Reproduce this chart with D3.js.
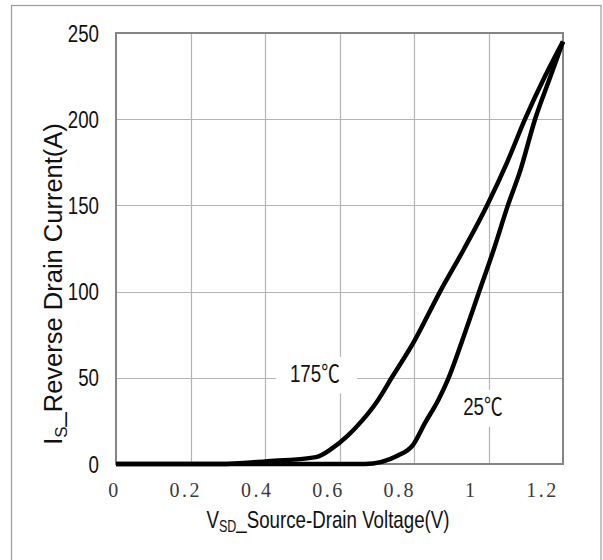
<!DOCTYPE html>
<html>
<head>
<meta charset="utf-8">
<script src="https://cdn.jsdelivr.net/npm/d3@7/dist/d3.min.js"></script>
<style>
  html, body { margin: 0; padding: 0; background: #fff; }
  svg { display: block; }
</style>
</head>
<body>
<svg id="chart" width="603" height="560"></svg>
<script>
// Reverse diode characteristic: source-drain voltage vs. reverse drain current
const voltageTicks = [0, 0.2, 0.4, 0.6, 0.8, 1.0, 1.2];
const voltageTickLabels = ["0", "0.2", "0.4", "0.6", "0.8", "1", "1.2"];
const currentTicks = [0, 50, 100, 150, 200, 250];

// Tj = 175 degC
const vsd175 = [0, 0.28, 0.40, 0.537, 0.58, 0.62, 0.66, 0.70, 0.74, 0.80, 0.87, 0.935, 0.996, 1.05, 1.098, 1.152, 1.20];
const is175  = [0, 0,    1.5,  4,     9,    16,   25,   36,   50,   71,   100,  125,   150,   175,  200,   225,   245];

// Tj = 25 degC
const vsd25 = [0, 0.668, 0.757, 0.797, 0.83, 0.865, 0.893, 0.935, 0.975, 1.015, 1.052, 1.085, 1.125, 1.165, 1.20];
const is25  = [0, 0,     5,     11,    24,   37,    50,    75,    100,   125,   150,   170,   200,   224,   245];

const seriesLabels = ["175\u2103", "25\u2103"];

const svg = d3.select("#chart");
const margin = { left: 116, right: 40, top: 33, bottom: 96 };
const W = 603, H = 560;
const plotW = W - margin.left - margin.right;
const plotH = H - margin.top - margin.bottom;

const x = d3.scaleLinear().domain([0, 1.2]).range([margin.left, margin.left + plotW]);
const y = d3.scaleLinear().domain([0, 250]).range([margin.top + plotH, margin.top]);
// tick text sits on a slightly narrower span than the grid
const xLabel = d3.scaleLinear().domain([0, 1.2]).range([113, 541]);

const sans = "'Liberation Sans', Arial, 'Noto Sans CJK SC', sans-serif";
const serif = "'Liberation Serif', 'DejaVu Serif', serif";
const squeeze = 0.78;

// outer frame
svg.append("rect")
  .attr("x", 11.5).attr("y", 5.5)
  .attr("width", 589.5).attr("height", 570)
  .attr("fill", "none").attr("stroke", "#9a9a9a").attr("stroke-width", 1.2);

// grid
const grid = svg.append("g");
grid.selectAll("line.v").data(voltageTicks.slice(1, -1)).join("line")
  .attr("x1", d => Math.round(x(d)) + 0.5).attr("x2", d => Math.round(x(d)) + 0.5)
  .attr("y1", y(0)).attr("y2", y(250))
  .attr("stroke", "#b4b4b4").attr("stroke-width", 1.2);
grid.selectAll("line.h").data(currentTicks.slice(1, -1)).join("line")
  .attr("y1", d => Math.round(y(d)) + 0.5).attr("y2", d => Math.round(y(d)) + 0.5)
  .attr("x1", x(0)).attr("x2", x(1.2))
  .attr("stroke", "#b4b4b4").attr("stroke-width", 1.2);

// plot border
svg.append("rect")
  .attr("x", x(0)).attr("y", y(250))
  .attr("width", x(1.2) - x(0)).attr("height", y(0) - y(250))
  .attr("fill", "none").attr("stroke", "#858585").attr("stroke-width", 2);

// y tick labels
svg.append("g").selectAll("text").data(currentTicks).join("text")
  .attr("transform", d => `translate(99,${y(d)}) scale(${squeeze},1)`)
  .attr("dy", "0.36em")
  .attr("text-anchor", "end")
  .attr("font-family", sans).attr("font-size", 24).attr("fill", "#111")
  .text(d => d);

// x tick labels
svg.append("g").selectAll("text").data(voltageTicks).join("text")
  .attr("x", (d, i) => xLabel(d) + 1.5)
  .attr("y", 497)
  .attr("text-anchor", "middle")
  .attr("font-family", serif).attr("font-size", 20)
  .attr("letter-spacing", 2.5)
  .attr("fill", "#3a3a3a")
  .text((d, i) => voltageTickLabels[i]);

// temperature labels with white backing
function tempLabel(txt, vx, iy) {
  const g = svg.append("g")
    .attr("transform", `translate(${x(vx)},${y(iy)}) scale(${squeeze},1)`);
  const t = g.append("text")
    .attr("font-family", sans).attr("font-size", 24).attr("fill", "#111")
    .text(txt);
  const b = t.node().getBBox();
  g.insert("rect", "text")
    .attr("x", b.x - 18).attr("y", b.y - 4)
    .attr("width", b.width + 40).attr("height", b.height + 10)
    .attr("fill", "#fff");
}
tempLabel(seriesLabels[0], 0.467, 47.6);
tempLabel(seriesLabels[1], 0.932, 28.4);

// curves
const line = d3.line()
  .x(d => x(d[0])).y(d => y(d[1]))
  .curve(d3.curveMonotoneX);
const curves = [d3.zip(vsd175, is175), d3.zip(vsd25, is25)];
svg.append("g").selectAll("path").data(curves).join("path")
  .attr("d", line)
  .attr("fill", "none")
  .attr("stroke", "#000")
  .attr("stroke-width", 4.5)
  .attr("stroke-linejoin", "round");

// axis titles
const xt = svg.append("text")
  .attr("transform", `translate(328,528) scale(${squeeze},1)`)
  .attr("text-anchor", "middle")
  .attr("font-family", sans).attr("font-size", 24).attr("fill", "#111");
xt.append("tspan").text("V");
xt.append("tspan").attr("font-size", 16).attr("dy", 4).text("SD");
xt.append("tspan").attr("dy", -4).text("_Source-Drain Voltage(V)");

const yt = svg.append("text")
  .attr("transform", "translate(62,284) rotate(-90)")
  .attr("text-anchor", "middle")
  .attr("font-family", sans).attr("font-size", 25.5).attr("fill", "#111");
yt.append("tspan").text("I");
yt.append("tspan").attr("font-size", 17).attr("dy", 5).text("S");
yt.append("tspan").attr("dy", -5).text("_Reverse Drain Current(A)");
</script>
</body>
</html>
